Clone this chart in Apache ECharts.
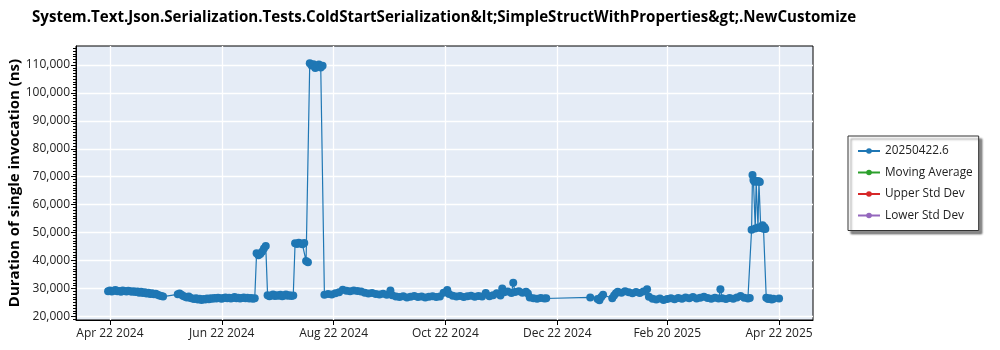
<!DOCTYPE html>
<html>
<head>
<meta charset="utf-8">
<script src="https://cdn.jsdelivr.net/npm/echarts@6/dist/echarts.min.js"></script>
<style>
  html, body { margin: 0; padding: 0; background: #ffffff; }
  #chart { width: 1000px; height: 350px; }
</style>
</head>
<body>
<div id="chart"></div>
<script>
// Benchmark history: single-invocation duration per run.
const chartTitle = 'System.Text.Json.Serialization.Tests.ColdStartSerialization&lt;SimpleStructWithProperties&gt;.NewCustomize';
const yAxisTitle = 'Duration of single invocation (ns)';
const seriesNames = ['20250422.6', 'Moving Average', 'Upper Std Dev', 'Lower Std Dev'];
const seriesColors = ['#1f77b4', '#2ca02c', '#d62728', '#9467bd'];

const xTickDates = ['2024-04-22', '2024-06-22', '2024-08-22', '2024-10-22', '2024-12-22', '2025-02-20', '2025-04-22'];
const xTickLabels = ['Apr 22 2024', 'Jun 22 2024', 'Aug 22 2024', 'Oct 22 2024', 'Dec 22 2024', 'Feb 20 2025', 'Apr 22 2025'];
const xRange = ['2024-04-03T12:00:00Z', '2025-05-10T12:00:00Z'];

const yTickValues = [20000, 30000, 40000, 50000, 60000, 70000, 80000, 90000, 100000, 110000];
const yRange = [18700, 116800];

// One line per stretch of runs; runDates[i] pairs with durations[i].
const runDates = [
  '2024-04-21','2024-04-22','2024-04-23','2024-04-24','2024-04-25','2024-04-26','2024-04-27','2024-04-28','2024-04-29','2024-04-30',
  '2024-05-01','2024-05-02','2024-05-03','2024-05-04','2024-05-05','2024-05-06','2024-05-07','2024-05-08','2024-05-09','2024-05-10',
  '2024-05-11','2024-05-12','2024-05-13','2024-05-14','2024-05-15','2024-05-16','2024-05-17','2024-05-18','2024-05-19','2024-05-20',
  '2024-05-21',
  '2024-05-29','2024-05-30','2024-05-31','2024-06-01','2024-06-02','2024-06-03','2024-06-04','2024-06-05','2024-06-06','2024-06-07',
  '2024-06-08','2024-06-09','2024-06-10','2024-06-11','2024-06-12','2024-06-13','2024-06-14','2024-06-15','2024-06-16','2024-06-17',
  '2024-06-18','2024-06-19','2024-06-20','2024-06-21','2024-06-22','2024-06-23','2024-06-24','2024-06-25','2024-06-26','2024-06-27',
  '2024-06-28','2024-06-29','2024-06-30','2024-07-01','2024-07-02','2024-07-03','2024-07-04','2024-07-05','2024-07-06','2024-07-07',
  '2024-07-08','2024-07-09','2024-07-10',
  '2024-07-11','2024-07-12','2024-07-13','2024-07-14','2024-07-15','2024-07-16',
  '2024-07-17','2024-07-18','2024-07-19','2024-07-20','2024-07-21','2024-07-22','2024-07-23','2024-07-24','2024-07-25','2024-07-26',
  '2024-07-27','2024-07-28','2024-07-29','2024-07-30','2024-07-31',
  '2024-08-01','2024-08-02','2024-08-03','2024-08-04','2024-08-05','2024-08-06',
  '2024-08-07','2024-08-08',
  '2024-08-09','2024-08-10','2024-08-11','2024-08-12','2024-08-13','2024-08-14','2024-08-15','2024-08-16',
  '2024-08-17','2024-08-19','2024-08-21','2024-08-23','2024-08-25','2024-08-27','2024-08-29','2024-08-31','2024-09-02','2024-09-04',
  '2024-09-06','2024-09-08','2024-09-10','2024-09-12','2024-09-14','2024-09-16','2024-09-18','2024-09-20','2024-09-22','2024-09-23',
  '2024-09-25','2024-09-27','2024-09-29','2024-10-01','2024-10-03','2024-10-05','2024-10-07','2024-10-09','2024-10-11','2024-10-13',
  '2024-10-15','2024-10-17','2024-10-19','2024-10-21','2024-10-23','2024-10-24','2024-10-26','2024-10-28','2024-10-30','2024-11-01',
  '2024-11-03','2024-11-05','2024-11-07','2024-11-09','2024-11-11','2024-11-13','2024-11-15','2024-11-17','2024-11-19','2024-11-21',
  '2024-11-22','2024-11-23','2024-11-25','2024-11-27','2024-11-28','2024-11-29','2024-12-01','2024-12-03','2024-12-05','2024-12-06',
  '2024-12-07','2024-12-09','2024-12-11','2024-12-13','2024-12-15','2024-12-16',
  '2025-01-09','2025-01-13','2025-01-14','2025-01-15','2025-01-16',
  '2025-01-21','2025-01-22','2025-01-23','2025-01-24','2025-01-26','2025-01-28','2025-01-30','2025-02-01','2025-02-03','2025-02-05',
  '2025-02-07','2025-02-09',
  '2025-02-10','2025-02-12','2025-02-14','2025-02-16','2025-02-18','2025-02-20','2025-02-22','2025-02-24','2025-02-26','2025-02-28',
  '2025-03-02','2025-03-04','2025-03-06','2025-03-08','2025-03-10','2025-03-12','2025-03-14','2025-03-16','2025-03-18','2025-03-20',
  '2025-03-21','2025-03-22','2025-03-24','2025-03-26','2025-03-28','2025-03-30','2025-04-01','2025-04-03','2025-04-05','2025-04-06',
  '2025-04-07T00:00:00Z','2025-04-07T12:00:00Z','2025-04-08T00:00:00Z','2025-04-08T12:00:00Z','2025-04-09T00:00:00Z',
  '2025-04-09T12:00:00Z','2025-04-10T00:00:00Z','2025-04-10T12:00:00Z','2025-04-11T00:00:00Z','2025-04-11T12:00:00Z',
  '2025-04-12T00:00:00Z','2025-04-12T12:00:00Z','2025-04-13T00:00:00Z','2025-04-13T12:00:00Z','2025-04-14T00:00:00Z',
  '2025-04-14T12:00:00Z',
  '2025-04-15','2025-04-16','2025-04-17','2025-04-18','2025-04-19','2025-04-22'
];
const durations = [
  29000, 29300, 28900, 29200, 29400, 29000, 29100, 28800, 29300, 29100,
  28900, 29200, 29000, 28800, 29000, 28700, 28900, 28500, 28800, 28400,
  28600, 28200, 28500, 28000, 28300, 27900, 28100, 27700, 27500, 27300,
  27100,
  27900, 28200, 27700, 27300, 27000, 26800, 27100, 26600, 26400, 26200,
  26500, 26000, 26300, 25900, 26200, 26000, 26400, 26100, 26500, 26300,
  26600, 26400, 26700, 26500, 26300, 26600, 26800, 26500, 26700, 26400,
  26600, 26900, 26500, 26700, 26400, 26600, 26800, 26500, 26700, 26400,
  26600, 26300, 26500,
  42600, 41900, 42300, 43100, 44300, 45200,
  27600, 27200, 27500, 27800, 27300, 27600, 27400, 27700, 27200, 27500,
  27800, 27400, 27600, 27300, 27500,
  46200, 45900, 46400, 46100, 45800, 46300,
  39800, 39400,
  110600, 109800, 110300, 108900, 109500, 110200, 109100, 109700,
  27700, 28000, 27800, 28300, 28600, 29500, 29200, 29000, 29300, 29100,
  28900, 28500, 28200, 28400, 28000, 27800, 28100, 27700, 29300, 27600,
  27100, 26900, 27200, 26800, 27000, 27300, 26900, 27100, 26800, 27000,
  27200, 26900, 27100, 28500, 29400, 28000, 27400, 27100, 27300, 26900,
  27200, 27400, 27000, 27300, 27100, 28400, 27200, 27600, 28300, 27500,
  30000, 28600, 28900, 28400, 32000, 28700, 29000, 28500, 28800, 28200,
  26800, 26500, 26300, 26600, 26400, 26500,
  26800, 26200, 25800, 26900, 27700,
  26500, 27500, 28300, 28800, 28500, 29000, 28600, 28300, 28700, 28400,
  28900, 29700,
  27000, 26300, 26000, 26400, 25900, 26200, 26500, 26100, 26600, 26300,
  26800, 26500, 26900, 26400, 26700, 27000, 26600, 26300, 26700, 26400,
  29700, 26500, 26200, 26600, 26300, 26800, 27300, 26700, 26400, 26600,
  51000, 70600, 68800, 68300, 51500,
  68200, 68500, 51800, 68400, 68100,
  51600, 52000, 52600, 51400, 51900,
  51300,
  26700, 26200, 26500, 26000, 26300, 26400
];

const FONT = '"Open Sans", "Noto Sans", sans-serif';
const toMs = s => Date.parse(s.length === 10 ? s + 'T00:00:00Z' : s);
const xTickMs = xTickDates.map(toMs);
const runPoints = runDates.map((d, i) => [toMs(d), durations[i]]);

// Minor ticks on the value axis, one per 1,000 ns.
const yMinorTicks = [];
for (let v = 19000; v <= 116000; v += 1000) yMinorTicks.push(v);

const chart = echarts.init(document.getElementById('chart'), null, { renderer: 'canvas' });

chart.setOption({
  animation: false,
  backgroundColor: '#ffffff',
  textStyle: { fontFamily: FONT },
  title: {
    text: chartTitle,
    left: 27,
    top: 5,
    textStyle: { fontFamily: FONT, fontSize: 15.1, fontWeight: 'bold', color: '#000' }
  },
  grid: {
    left: 76, right: 187, top: 46, bottom: 30,
    outerBoundsMode: 'none',
    containLabel: false,
    show: true,
    backgroundColor: '#e5ecf6',
    borderColor: '#000',
    borderWidth: 1
  },
  legend: {
    data: seriesNames,
    orient: 'vertical',
    left: 848,
    top: 136,
    padding: [8, 6, 8, 9],
    itemWidth: 22,
    itemHeight: 7,
    itemGap: 7.5,
    backgroundColor: '#ffffff',
    borderColor: '#333',
    borderWidth: 1,
    shadowColor: 'rgba(0,0,0,0.45)',
    shadowBlur: 2,
    shadowOffsetX: 3,
    shadowOffsetY: 3,
    textStyle: { fontFamily: FONT, fontSize: 11.8, color: '#222', lineHeight: 14 }
  },
  xAxis: {
    type: 'value',
    min: toMs(xRange[0]),
    max: toMs(xRange[1]),
    axisLine: { show: true, onZero: false, lineStyle: { color: '#000', width: 1 } },
    axisTick: { show: true, customValues: xTickMs, length: 5, lineStyle: { color: '#000' } },
    axisLabel: {
      customValues: xTickMs,
      margin: 8,
      fontFamily: FONT,
      fontSize: 12,
      color: '#222',
      formatter: v => {
        const i = xTickMs.indexOf(v);
        return i >= 0 ? xTickLabels[i] : '';
      }
    },
    splitLine: { show: true, lineStyle: { color: '#ffffff', width: 1.3 } }
  },
  yAxis: [
    {
      type: 'value',
      min: yRange[0],
      max: yRange[1],
      name: yAxisTitle,
      nameLocation: 'middle',
      nameGap: 54,
      nameMoveOverlap: false,
      nameTextStyle: { fontFamily: FONT, fontSize: 15, fontWeight: 'bold', color: '#000' },
      axisLine: { show: true, lineStyle: { color: '#000', width: 1 } },
      axisTick: { show: true, customValues: yTickValues, length: 5, lineStyle: { color: '#000' } },
      axisLabel: {
        customValues: yTickValues,
        margin: 6,
        fontFamily: FONT,
        fontSize: 12,
        color: '#222',
        formatter: v => v.toLocaleString('en-US')
      },
      splitLine: { show: true, lineStyle: { color: '#ffffff', width: 1.3 } }
    },
    {
      type: 'value',
      min: yRange[0],
      max: yRange[1],
      position: 'left',
      axisLine: { show: false },
      axisTick: { show: true, customValues: yMinorTicks, length: 3, lineStyle: { color: '#000' } },
      axisLabel: { show: false },
      splitLine: { show: false }
    }
  ],
  series: [
    {
      name: seriesNames[0],
      type: 'line',
      data: runPoints,
      color: seriesColors[0],
      symbol: 'circle',
      symbolSize: 8,
      showSymbol: true,
      lineStyle: { width: 1.2, color: seriesColors[0] },
      itemStyle: { color: seriesColors[0] },
      z: 3
    },
    { name: seriesNames[1], type: 'line', data: [], color: seriesColors[1], symbol: 'circle', itemStyle: { color: seriesColors[1] }, lineStyle: { color: seriesColors[1] } },
    { name: seriesNames[2], type: 'line', data: [], color: seriesColors[2], symbol: 'circle', itemStyle: { color: seriesColors[2] }, lineStyle: { color: seriesColors[2] } },
    { name: seriesNames[3], type: 'line', data: [], color: seriesColors[3], symbol: 'circle', itemStyle: { color: seriesColors[3] }, lineStyle: { color: seriesColors[3] } }
  ]
});
</script>
</body>
</html>
